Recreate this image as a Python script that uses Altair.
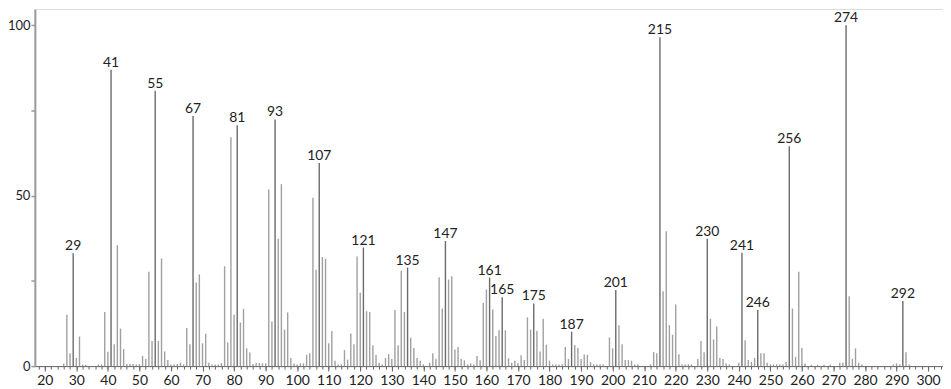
import altair as alt
import pandas as pd

# m/z values and relative intensities
mz = [26, 27, 28, 29, 30, 31, 32, 33, 37, 38, 39, 40, 41, 42, 43, 44, 45, 46, 47, 48, 49, 50,
      51, 52, 53, 54, 55, 56, 57, 58, 59, 60, 61, 62, 63, 64, 65, 66, 67, 68, 69, 70,
      71, 72, 73, 74, 75, 76, 77, 78, 79, 80, 81, 82, 83, 84, 85, 86, 87, 88, 89, 90,
      91, 92, 93, 94, 95, 96, 97, 98, 99, 100, 101, 102, 103, 104, 105, 106, 107, 108, 109, 110,
      111, 112, 113, 114, 115, 116, 117, 118, 119, 120, 121, 122, 123, 124, 125, 126, 127, 128, 129, 130,
      131, 132, 133, 134, 135, 136, 137, 138, 139, 140, 142, 143, 144, 145, 146, 147, 148, 149, 150,
      151, 152, 153, 154, 155, 156, 157, 158, 159, 160, 161, 162, 163, 164, 165, 166, 167, 168, 169, 170,
      171, 172, 173, 174, 175, 176, 177, 178, 179, 180, 181, 182, 183, 184, 185, 186, 187, 188, 189, 190,
      191, 192, 193, 194, 195, 196, 197, 199, 200, 201, 202, 203, 204, 205, 206, 207, 208,
      212, 213, 214, 215, 216, 217, 218, 219, 220, 221, 222, 223, 224, 225, 227, 228, 229, 230,
      231, 232, 233, 234, 235, 236, 237, 240, 241, 242, 243, 244, 245, 246, 247, 248, 249, 250,
      251, 252, 253, 254, 255, 256, 257, 258, 259, 260, 261, 263, 265, 267, 269, 272, 273, 274, 275, 276, 277, 278, 279,
      289, 290, 291, 292, 293, 294]
intensity = [0.8, 15.1, 3.8, 33.1, 2.4, 8.7, 0.4, 0.4, 0.5, 0.5, 15.9, 4.2, 87.0, 6.4, 35.5, 11.0, 5.0, 0.6, 0.6, 0.6, 0.5, 0.6,
             3.0, 2.1, 27.7, 7.4, 80.8, 7.4, 31.6, 4.3, 1.8, 0.5, 0.5, 0.6, 1.0, 0.5, 11.2, 6.4, 73.4, 24.5, 26.9, 6.7,
             9.5, 1.0, 0.5, 0.5, 0.5, 0.9, 29.3, 6.9, 67.2, 15.1, 70.7, 12.8, 16.8, 5.2, 4.0, 0.6, 0.9, 0.9, 0.8, 0.8,
             51.8, 13.1, 72.4, 37.4, 53.4, 10.7, 15.7, 2.4, 0.8, 0.5, 0.8, 0.8, 3.3, 3.8, 49.4, 28.3, 59.6, 32.0, 31.5, 6.7,
             10.3, 1.6, 0.5, 0.5, 4.7, 1.9, 9.6, 6.4, 32.2, 21.5, 34.8, 16.1, 15.9, 6.1, 3.3, 1.0, 0.5, 2.4, 3.5, 2.1,
             16.5, 6.1, 28.0, 15.9, 28.9, 8.3, 5.3, 2.4, 1.6, 0.5, 1.0, 3.8, 2.1, 26.1, 16.9, 36.7, 25.4, 26.4, 4.9,
             5.6, 2.1, 1.7, 0.5, 0.8, 0.5, 3.0, 1.7, 18.5, 22.5, 26.0, 16.6, 8.8, 10.5, 20.2, 10.5, 2.3, 1.0, 1.6, 0.9,
             3.2, 1.8, 14.3, 10.7, 18.4, 10.3, 4.3, 13.9, 6.3, 1.6, 0.5, 0.5, 0.5, 0.5, 5.6, 2.1, 10.1, 6.2, 5.3, 2.1,
             3.4, 3.3, 1.2, 0.5, 0.5, 0.5, 0.5, 8.4, 5.2, 22.3, 12.0, 6.4, 1.8, 1.8, 1.6, 0.5, 0.5,
             0.5, 4.1, 3.8, 96.5, 22.0, 39.6, 12.0, 9.2, 18.1, 3.5, 0.5, 0.5, 0.5, 0.5, 2.1, 7.4, 4.1, 37.4,
             13.9, 7.8, 11.6, 2.4, 2.1, 0.8, 0.5, 1.0, 33.3, 7.6, 1.8, 1.2, 2.4, 16.5, 3.8, 3.8, 1.0, 0.5,
             0.5, 0.5, 0.5, 0.5, 1.2, 64.5, 16.9, 2.7, 27.7, 5.3, 0.8, 0.4, 0.4, 0.4, 0.4, 1.0, 1.0, 100.0, 20.5, 2.1, 5.2, 1.0, 0.5,
             0.5, 0.8, 0.5, 19.1, 4.1, 0.5]
labeled = [29, 41, 55, 67, 81, 93, 107, 121, 135, 147, 161, 165, 175, 187, 201, 215, 230, 241, 246, 256, 274, 292]

y_ticks = [0, 25, 50, 75, 100]
x_major = list(range(20, 301, 10))
x_minor = list(range(18, 305, 2))

df = pd.DataFrame({"mz": mz, "intensity": intensity})
df["lab"] = df["mz"].isin(labeled)

FONT = "Lato"
xscale = alt.Scale(domain=[16.85, 304.73], nice=False, zero=False)
yscale = alt.Scale(domain=[0, 104.8], nice=False)

bars = alt.Chart(df).mark_rule(strokeWidth=1.4).encode(
    x=alt.X("mz:Q", scale=xscale, title=None,
            axis=alt.Axis(orient="bottom", values=x_minor, labels=False, tickSize=3,
                          tickColor="#666", domainColor="#666", domainWidth=1, grid=False)),
    y=alt.Y("intensity:Q", scale=yscale, title=None,
            axis=alt.Axis(values=y_ticks, tickSize=4, tickColor="#999", tickWidth=1.5,
                          domainColor="#999", domainWidth=2, grid=False,
                          labelExpr="datum.value % 50 == 0 ? datum.label : ''",
                          labelFont=FONT, labelFontSize=13, labelColor="#222",
                          labelPadding=1)),
    y2=alt.datum(0),
    color=alt.condition("datum.lab", alt.value("#6a6a6a"), alt.value("#a0a0a0")),
)

labels = alt.Chart(df).transform_filter("datum.lab").mark_text(
    font=FONT, fontSize=14, color="#222", baseline="alphabetic", align="center", dy=-3
).encode(
    x=alt.X("mz:Q", scale=xscale, title=None,
            axis=alt.Axis(orient="bottom", values=x_major, tickSize=5, tickColor="#666",
                          domain=False, labelFont=FONT, labelFontSize=14, labelColor="#222",
                          labelPadding=2, grid=False, labelFlush=False, labelOverlap=False)),
    y=alt.Y("intensity:Q", scale=yscale, axis=None),
    text=alt.Text("mz:Q", format="d"),
)

chart = alt.layer(bars, labels).resolve_axis(x="independent", y="independent").properties(
    width=913, height=359, autosize="none",
    padding={"left": 27, "top": 0, "right": 0, "bottom": 22},
).configure_view(stroke=None).configure(background="white")

chart.save("out.html", embed_options={"renderer": "svg", "actions": False})
